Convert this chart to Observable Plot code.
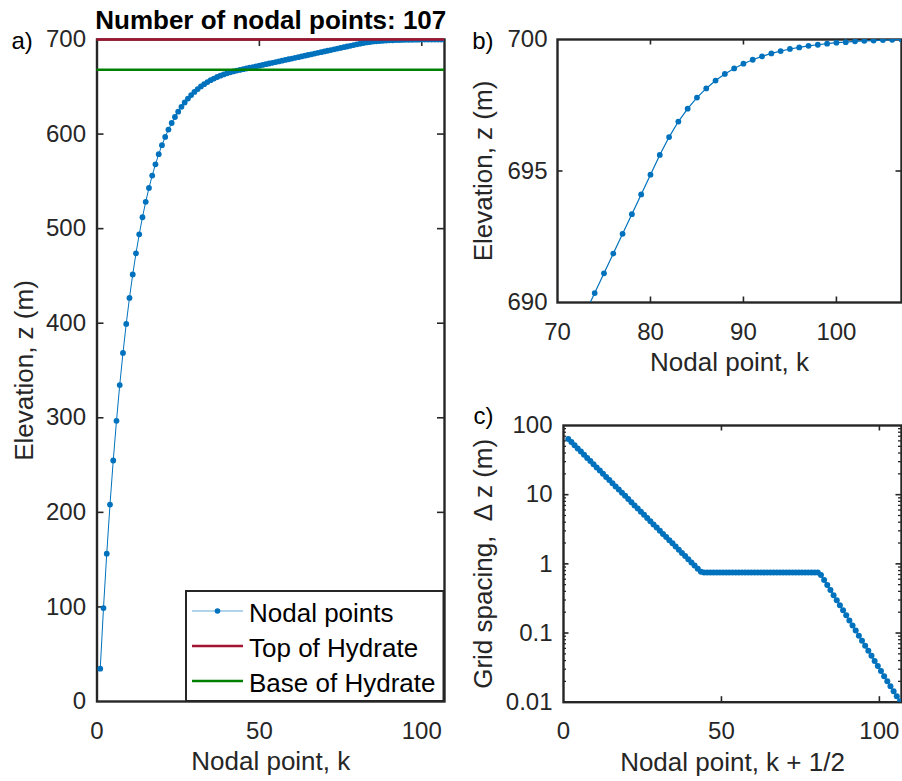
<!DOCTYPE html>
<html><head><meta charset="utf-8">
<script src="https://cdn.jsdelivr.net/npm/d3@7"></script>
<script src="https://cdn.jsdelivr.net/npm/@observablehq/plot@0.6"></script>
<style>
body{margin:0;background:#fff;}
#fig{position:relative;width:902px;height:781px;overflow:hidden;background:#fff;}
#fig svg{position:absolute;overflow:visible;background:transparent;}
</style></head><body><div id="fig"></div>
<script>
// ---------------- data ----------------
const nodalK = [1,2,3,4,5,6,7,8,9,10,11,12,13,14,15,16,17,18,19,20,21,22,23,24,25,26,27,28,29,30,
31,32,33,34,35,36,37,38,39,40,41,42,43,44,45,46,47,48,49,50,51,52,53,54,55,56,57,58,59,60,
61,62,63,64,65,66,67,68,69,70,71,72,73,74,75,76,77,78,79,80,81,82,83,84,85,86,87,88,89,90,
91,92,93,94,95,96,97,98,99,100,101,102,103,104,105,106,107];
const elevation = [
34.74, 98.74, 156.34, 208.18, 254.84, 296.83, 334.62, 368.63, 399.24, 426.79,
451.59, 473.91, 493.99, 512.07, 528.34, 542.98, 556.16, 568.02, 578.69, 588.30,
596.95, 604.73, 611.73, 618.03, 623.70, 628.81, 633.40, 637.54, 641.26, 644.61,
647.62, 650.33, 652.77, 654.97, 656.95, 658.73, 660.33, 661.77, 663.07, 664.24,
665.29, 666.24, 667.09, 667.86, 668.61, 669.36, 670.11, 670.86, 671.61, 672.36,
673.11, 673.86, 674.61, 675.36, 676.11, 676.86, 677.61, 678.36, 679.11, 679.86,
680.61, 681.36, 682.11, 682.86, 683.61, 684.36, 685.11, 685.86, 686.61, 687.36,
688.11, 688.86, 689.61, 690.36, 691.11, 691.86, 692.61, 693.36, 694.11, 694.86,
695.61, 696.29, 696.88, 697.37, 697.79, 698.14, 698.44, 698.69, 698.90, 699.08,
699.23, 699.36, 699.47, 699.56, 699.64, 699.70, 699.76, 699.80, 699.84, 699.88,
699.90, 699.93, 699.95, 699.96, 699.98, 699.99, 700.00];
const gridSpacing = [
64, 57.6, 51.84, 46.66, 41.99, 37.79, 34.01, 30.61, 27.55, 24.80,
22.32, 20.08, 18.08, 16.27, 14.64, 13.18, 11.86, 10.67, 9.61, 8.65,
7.78, 7.00, 6.30, 5.67, 5.11, 4.59, 4.14, 3.72, 3.35, 3.01,
2.71, 2.44, 2.20, 1.98, 1.78, 1.60, 1.44, 1.30, 1.17, 1.05,
0.946, 0.851, 0.766, 0.75, 0.75, 0.75, 0.75, 0.75, 0.75, 0.75,
0.75, 0.75, 0.75, 0.75, 0.75, 0.75, 0.75, 0.75, 0.75, 0.75,
0.75, 0.75, 0.75, 0.75, 0.75, 0.75, 0.75, 0.75, 0.75, 0.75,
0.75, 0.75, 0.75, 0.75, 0.75, 0.75, 0.75, 0.75, 0.75, 0.75,
0.692, 0.585, 0.494, 0.418, 0.353, 0.298, 0.252, 0.213, 0.180, 0.152,
0.128, 0.109, 0.0917, 0.0775, 0.0655, 0.0553, 0.0468, 0.0395, 0.0334, 0.0282,
0.0238, 0.0201, 0.0170, 0.0144, 0.0122, 0.0103];
const topOfHydrate = 700;
const baseOfHydrate = 668;
const seriesNames = ["Nodal points", "Top of Hydrate", "Base of Hydrate"];
const titleText = "Number of nodal points: 107";

const ticksAx = [0, 50, 100];
const ticksAy = [0, 100, 200, 300, 400, 500, 600, 700];
const ticksBx = [70, 80, 90, 100];
const ticksBy = [690, 695, 700];
const ticksCx = [0, 50, 100];
const ticksCy = [0.01, 0.1, 1, 10, 100];
const ticksCyLabels = ["0.01", "0.1", "1", "10", "100"];
const minorCy = [0.02,0.03,0.04,0.05,0.06,0.07,0.08,0.09,0.2,0.3,0.4,0.5,0.6,0.7,0.8,0.9,
  2,3,4,5,6,7,8,9,20,30,40,50,60,70,80,90];

// ---------------- styling ----------------
const BLUE = "#0072BD", RED = "#A2142F", GREEN = "#008000", AX = "#262626";
const FONT = "'Liberation Sans', Arial, Helvetica, sans-serif";

const nodes = nodalK.map((k, i) => ({k, z: elevation[i]}));
const spacing = gridSpacing.map((d, i) => ({kh: nodalK[i] + 0.5, dz: d}));

function inwardTicks(xt, yt, innerW, innerH, L) {
  const o = {stroke: AX, strokeWidth: 1.6};
  return [
    Plot.tickX(xt, {x: d => d, insetTop: innerH - L, ...o}),
    Plot.tickX(xt, {x: d => d, insetBottom: innerH - L, ...o}),
    Plot.tickY(yt, {y: d => d, insetRight: innerW - L, ...o}),
    Plot.tickY(yt, {y: d => d, insetLeft: innerW - L, ...o})
  ];
}
function txt(s, opts) {
  return Plot.text([s], {text: d => d, fill: AX, fontSize: 26, ...opts});
}
function place(svg, left, top) {
  svg.style.left = left + "px";
  svg.style.top = top + "px";
  document.getElementById("fig").appendChild(svg);
  return svg;
}
const baseStyle = {fontFamily: FONT, fontSize: "24px", color: AX, background: "transparent", overflow: "visible"};

// ---------------- panel a ----------------
{
  const W = 455, H = 781, mL = 96.5, mR = 11, mT = 39, mB = 80;
  const iW = W - mL - mR, iH = H - mT - mB;
  const p = Plot.plot({
    width: W, height: H, marginLeft: mL, marginRight: mR, marginTop: mT, marginBottom: mB,
    style: baseStyle,
    x: {domain: [0, 107]},
    y: {domain: [0, 700]},
    marks: [
      ...inwardTicks([50, 100], [100, 200, 300, 400, 500, 600], iW, iH, 7),
      Plot.frame({stroke: AX, strokeWidth: 2.4}),
      Plot.axisX({ticks: ticksAx, tickSize: 0, tickPadding: 20, label: null, tickFormat: d => String(d)}),
      Plot.axisY({ticks: ticksAy, tickSize: 0, tickPadding: 11, label: null, tickFormat: d => String(d)}),
      Plot.line(nodes, {x: "k", y: "z", stroke: BLUE, strokeWidth: 1, clip: true}),
      Plot.dot(nodes, {x: "k", y: "z", r: 2.9, fill: BLUE, stroke: "none", clip: true}),
      Plot.ruleY([topOfHydrate], {stroke: RED, strokeWidth: 2.6}),
      Plot.ruleY([baseOfHydrate], {stroke: GREEN, strokeWidth: 2.6}),
      txt("Nodal point, k", {frameAnchor: "bottom", dy: 68, lineAnchor: "bottom", textAnchor: "middle"}),
      txt("Elevation, z (m)", {frameAnchor: "left", dx: -64.5, rotate: -90, lineAnchor: "bottom", textAnchor: "middle"}),
      txt(titleText, {frameAnchor: "top", dy: -10.5, lineAnchor: "bottom", textAnchor: "middle", fontWeight: "bold", fill: "#000"}),
      txt("a)", {frameAnchor: "top-left", dx: -85.5, dy: 9.3, lineAnchor: "bottom", textAnchor: "start", fontSize: 24, fill: "#000"})
    ]
  });
  place(p, 0, 0);
  // legend box inside the axes (lower right)
  const g = d3.select(p).append("g").attr("font-family", FONT).attr("font-size", 26).attr("text-anchor", "start");
  g.append("rect").attr("x", 186).attr("y", 591).attr("width", 257.5).attr("height", 110)
    .attr("fill", "#fff").attr("stroke", AX).attr("stroke-width", 2);
  const rows = [
    {name: seriesNames[0], color: BLUE, w: 1.2, dot: true},
    {name: seriesNames[1], color: RED, w: 2.6},
    {name: seriesNames[2], color: GREEN, w: 2.6}
  ];
  rows.forEach((r, i) => {
    const y = 611 + i * 35;
    g.append("line").attr("x1", 192).attr("x2", 243).attr("y1", y).attr("y2", y)
      .attr("stroke", r.color).attr("stroke-width", r.w).attr("stroke-opacity", r.dot ? 0.6 : 1);
    if (r.dot) g.append("circle").attr("cx", 217.5).attr("cy", y).attr("r", 2.8).attr("fill", r.color);
    g.append("text").attr("x", 249).attr("y", y + 10.7).attr("fill", "#000")
      .attr("text-anchor", "start").text(r.name);
  });
}

// ---------------- panel b ----------------
{
  const W = 442, H = 390, mL = 97, mR = 1, mT = 39, mB = 88;
  const iW = W - mL - mR, iH = H - mT - mB;
  const p = Plot.plot({
    width: W, height: H, marginLeft: mL, marginRight: mR, marginTop: mT, marginBottom: mB,
    style: baseStyle,
    x: {domain: [70, 107]},
    y: {domain: [690, 700]},
    marks: [
      ...inwardTicks([80, 90, 100], [695], iW, iH, 5.5),
      Plot.frame({stroke: AX, strokeWidth: 2.4}),
      Plot.axisX({ticks: ticksBx, tickSize: 0, tickPadding: 20, label: null, tickFormat: d => String(d)}),
      Plot.axisY({ticks: ticksBy, tickSize: 0, tickPadding: 10, label: null, tickFormat: d => String(d)}),
      Plot.line(nodes, {x: "k", y: "z", stroke: BLUE, strokeWidth: 1.2, clip: true}),
      Plot.dot(nodes, {x: "k", y: "z", r: 2.9, fill: BLUE, stroke: "none", clip: true}),
      txt("Nodal point, k", {frameAnchor: "bottom", dy: 68, lineAnchor: "bottom", textAnchor: "middle"}),
      txt("Elevation, z (m)", {frameAnchor: "left", dx: -65.3, rotate: -90, lineAnchor: "bottom", textAnchor: "middle"}),
      txt("b)", {frameAnchor: "top-left", dx: -85.3, dy: 9.3, lineAnchor: "bottom", textAnchor: "start", fontSize: 24, fill: "#000"})
    ]
  });
  place(p, 460, 0);
}

// ---------------- panel c ----------------
{
  const W = 442, H = 391, mL = 103, mR = 1, mT = 35, mB = 79.3;
  const iW = W - mL - mR, iH = H - mT - mB;
  const o = {stroke: AX, strokeWidth: 1.3};
  const p = Plot.plot({
    width: W, height: H, marginLeft: mL, marginRight: mR, marginTop: mT, marginBottom: mB,
    style: baseStyle,
    x: {domain: [0, 107]},
    y: {type: "log", domain: [0.01, 100]},
    marks: [
      ...inwardTicks([50, 100], [0.1, 1, 10], iW, iH, 5.5),
      Plot.tickY(minorCy, {y: d => d, insetRight: iW - 3, ...o}),
      Plot.tickY(minorCy, {y: d => d, insetLeft: iW - 3, ...o}),
      Plot.frame({stroke: AX, strokeWidth: 2.4}),
      Plot.axisX({ticks: ticksCx, tickSize: 0, tickPadding: 20, label: null, tickFormat: d => String(d)}),
      Plot.axisY({ticks: ticksCy, tickSize: 0, tickPadding: 11, label: null,
        tickFormat: d => ticksCyLabels[ticksCy.findIndex(t => Math.abs(t - d) < 1e-9)]}),
      Plot.line(spacing, {x: "kh", y: "dz", stroke: BLUE, strokeWidth: 1.2, clip: true}),
      Plot.dot(spacing, {x: "kh", y: "dz", r: 3, fill: BLUE, stroke: "none", clip: true}),
      txt("Nodal point, k + 1/2", {frameAnchor: "bottom", dy: 68.3, lineAnchor: "bottom", textAnchor: "middle"}),
      txt("Grid spacing,\u00A0 \u0394 z (m)", {frameAnchor: "left", dx: -71.3, rotate: -90, lineAnchor: "bottom", textAnchor: "middle"}),
      txt("c)", {frameAnchor: "top-left", dx: -90, dy: -1.7, lineAnchor: "bottom", textAnchor: "start", fontSize: 24, fill: "#000"})
    ]
  });
  place(p, 460, 390);
}
</script>
</body></html>
